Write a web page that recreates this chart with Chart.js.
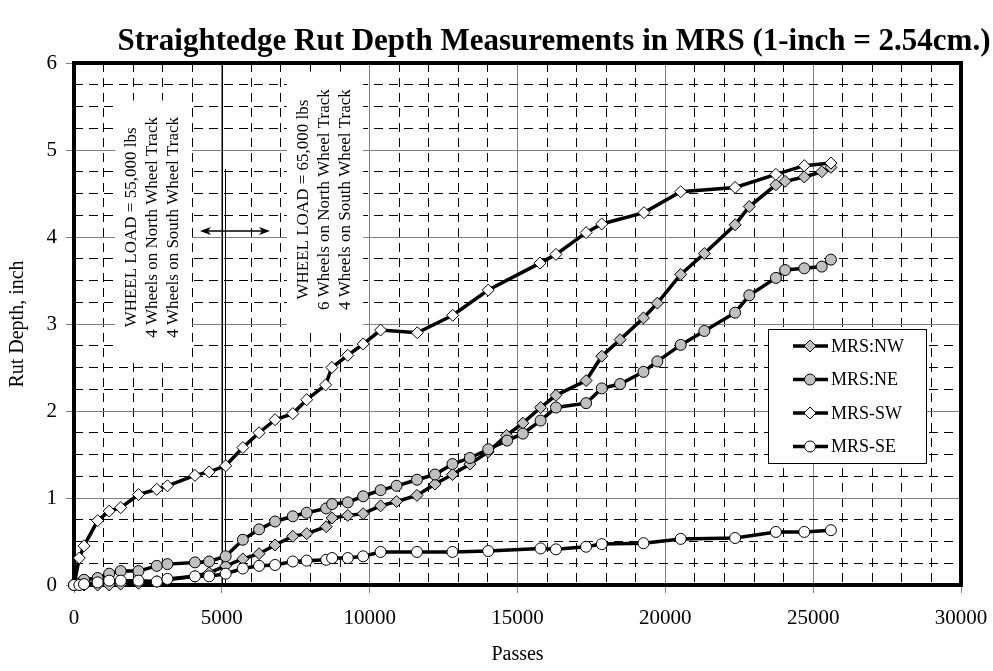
<!DOCTYPE html>
<html>
<head>
<meta charset="utf-8">
<script src="https://cdn.jsdelivr.net/npm/chart.js"></script>
<style>
  html, body { margin: 0; padding: 0; background: #fff; }
</style>
</head>
<body>
<canvas id="rutChart" width="993" height="671"></canvas>
<script>
// series names, in legend order
const seriesNames = ['MRS:NW', 'MRS:NE', 'MRS-SW', 'MRS-SE'];

// passes / rut depth (inch)
const nwPasses = [0, 180, 340, 800, 1190, 1580, 2180, 2800, 3160, 4090, 4570, 5130, 5710, 6260, 6800, 7400, 7870, 8530, 8730, 9260, 9780, 10370, 10910, 11600, 12210, 12800, 13390, 14010, 14630, 15180, 15780, 16300, 17320, 17850, 18470, 19260, 19730, 20520, 21320, 22360, 22840, 23740, 24050, 24700, 25290, 25600];
const nwDepth  = [0, 0, 0, 0, 0, 0.01, 0.02, 0.04, 0.06, 0.10, 0.14, 0.22, 0.30, 0.36, 0.46, 0.56, 0.59, 0.67, 0.77, 0.80, 0.82, 0.91, 0.96, 1.03, 1.16, 1.27, 1.39, 1.53, 1.72, 1.86, 2.04, 2.18, 2.35, 2.63, 2.82, 3.07, 3.24, 3.57, 3.81, 4.14, 4.35, 4.60, 4.64, 4.69, 4.75, 4.80];

const nePasses = [0, 180, 340, 800, 1190, 1580, 2180, 2800, 3160, 4090, 4570, 5130, 5710, 6260, 6800, 7400, 7870, 8530, 8730, 9260, 9780, 10370, 10910, 11600, 12210, 12800, 13390, 14010, 14650, 15180, 15780, 16300, 17320, 17850, 18470, 19260, 19730, 20520, 21320, 22360, 22840, 23740, 24050, 24700, 25290, 25600];
const neDepth  = [0, 0.02, 0.06, 0.08, 0.13, 0.16, 0.16, 0.22, 0.24, 0.26, 0.27, 0.33, 0.52, 0.64, 0.73, 0.79, 0.83, 0.88, 0.93, 0.95, 1.02, 1.09, 1.14, 1.21, 1.27, 1.39, 1.46, 1.56, 1.66, 1.74, 1.89, 2.04, 2.09, 2.26, 2.31, 2.45, 2.57, 2.76, 2.92, 3.13, 3.33, 3.53, 3.62, 3.64, 3.66, 3.74];

const swPasses = [0, 180, 340, 800, 1190, 1580, 2180, 2800, 3160, 4090, 4570, 5130, 5710, 6260, 6800, 7400, 7870, 8510, 8720, 9260, 9780, 10370, 11610, 12810, 14010, 15760, 16300, 17320, 17850, 19280, 20520, 22360, 23740, 24700, 25600];
const swDepth  = [0, 0.31, 0.45, 0.74, 0.85, 0.89, 1.04, 1.10, 1.14, 1.26, 1.30, 1.37, 1.58, 1.75, 1.90, 1.97, 2.13, 2.30, 2.50, 2.64, 2.77, 2.93, 2.90, 3.10, 3.39, 3.70, 3.80, 4.05, 4.15, 4.28, 4.52, 4.57, 4.72, 4.82, 4.85];

const sePasses = [0, 180, 340, 800, 1190, 1580, 2180, 2800, 3160, 4090, 4570, 5130, 5710, 6260, 6800, 7400, 7870, 8530, 8730, 9260, 9780, 10370, 11600, 12800, 14010, 15780, 16300, 17320, 17850, 19260, 20520, 22360, 23740, 24700, 25600];
const seDepth  = [0, 0, 0.01, 0.03, 0.05, 0.05, 0.05, 0.04, 0.07, 0.10, 0.10, 0.13, 0.19, 0.22, 0.23, 0.27, 0.28, 0.29, 0.31, 0.31, 0.33, 0.38, 0.38, 0.38, 0.39, 0.42, 0.41, 0.44, 0.47, 0.48, 0.53, 0.54, 0.61, 0.61, 0.63];

// axis ticks
const xTickValues = [0, 5000, 10000, 15000, 20000, 25000, 30000];
const yTickValues = [0, 1, 2, 3, 4, 5, 6];

// notes on the plot (passes / inch)
const loadNotes = [
  { box: [1390, 3990, 2.62, 5.57], at: [2640, 4.11],
    lines: ['WHEEL LOAD = 55,000 lbs', '4 Wheels on North Wheel Track', '4 Wheels on South Wheel Track'] },
  { box: [7200, 9780, 2.93, 5.90], at: [8490, 4.43],
    lines: ['WHEEL LOAD = 65,000 lbs', '6 Wheels on North Wheel Track', '4 Wheels on South Wheel Track'] }
];
const changeAt = 5000;
const changeLine2 = 5100;
const changeTop = 4.78;
const arrowSpan = [4260, 6630, 4.07];

const SERIF = "'Liberation Serif', 'Times New Roman', serif";

const pts = (p, d) => p.map((v, i) => ({ x: v, y: d[i] }));

const styles = [
  { style: 'rectRot', r: 6, fill: '#c0c0c0' },
  { style: 'circle', r: 5.5, fill: '#c0c0c0' },
  { style: 'rectRot', r: 6, fill: '#ffffff' },
  { style: 'circle', r: 5.5, fill: '#ffffff' }
];
const allData = [pts(nwPasses, nwDepth), pts(nePasses, neDepth), pts(swPasses, swDepth), pts(sePasses, seDepth)];

function marker(ctx, s, x, y) {
  ctx.beginPath();
  if (s.style === 'circle') {
    ctx.arc(x, y, s.r, 0, Math.PI * 2);
  } else {
    ctx.moveTo(x - s.r, y);
    ctx.lineTo(x, y - s.r);
    ctx.lineTo(x + s.r, y);
    ctx.lineTo(x, y + s.r);
    ctx.closePath();
  }
  ctx.fillStyle = s.fill;
  ctx.fill();
  ctx.lineWidth = 1;
  ctx.strokeStyle = '#000';
  ctx.stroke();
}

const decor = {
  id: 'decor',
  beforeDatasetsDraw(chart) {
    const { ctx, chartArea: a, scales: { x, y } } = chart;
    ctx.save();

    // white panels + rotated text
    loadNotes.forEach(n => {
      const l = x.getPixelForValue(n.box[0]), r = x.getPixelForValue(n.box[1]);
      const t = y.getPixelForValue(n.box[3]), b = y.getPixelForValue(n.box[2]);
      ctx.fillStyle = '#fff';
      ctx.fillRect(l, t, r - l, b - t);

      ctx.save();
      ctx.translate(x.getPixelForValue(n.at[0]), y.getPixelForValue(n.at[1]));
      ctx.rotate(-Math.PI / 2);
      ctx.fillStyle = '#000';
      ctx.font = '17px ' + SERIF;
      ctx.textAlign = 'center';
      ctx.textBaseline = 'middle';
      n.lines.forEach((s, i) => ctx.fillText(s, 0, (i - 1) * 21));
      ctx.restore();
    });

    // load change lines
    ctx.strokeStyle = '#000';
    ctx.lineWidth = 1;
    const cx = Math.round(x.getPixelForValue(changeAt)) + 0.5;
    ctx.beginPath();
    ctx.moveTo(cx, a.top);
    ctx.lineTo(cx, a.bottom);
    ctx.stroke();
    const cx2 = Math.round(x.getPixelForValue(changeLine2)) + 0.5;
    ctx.beginPath();
    ctx.moveTo(cx2, y.getPixelForValue(changeTop));
    ctx.lineTo(cx2, a.bottom);
    ctx.stroke();

    // double arrow
    const ax1 = x.getPixelForValue(arrowSpan[0]), ax2 = x.getPixelForValue(arrowSpan[1]);
    const ay = y.getPixelForValue(arrowSpan[2]);
    ctx.lineWidth = 1.5;
    ctx.beginPath();
    ctx.moveTo(ax1 + 4, ay);
    ctx.lineTo(ax2 - 4, ay);
    ctx.stroke();
    ctx.fillStyle = '#000';
    [[ax1, 1], [ax2, -1]].forEach(([px, d]) => {
      ctx.beginPath();
      ctx.moveTo(px, ay);
      ctx.lineTo(px + d * 11, ay - 4);
      ctx.lineTo(px + d * 8, ay);
      ctx.lineTo(px + d * 11, ay + 4);
      ctx.closePath();
      ctx.fill();
    });

    // heavy plot frame
    ctx.lineWidth = 4;
    ctx.strokeRect(a.left, a.top, a.right - a.left, a.bottom - a.top);
    ctx.restore();
  },
  afterDatasetsDraw(chart) {
    const { ctx } = chart;
    ctx.save();
    const lx = 768, ly = 329, lw = 158, lh = 134;
    ctx.fillStyle = '#fff';
    ctx.fillRect(lx, ly, lw, lh);
    ctx.strokeStyle = '#000';
    ctx.lineWidth = 1;
    ctx.strokeRect(lx + 0.5, ly + 0.5, lw, lh);
    seriesNames.forEach((name, i) => {
      const yy = ly + 17 + i * 33.5;
      ctx.strokeStyle = '#000';
      ctx.lineWidth = 3.5;
      ctx.beginPath();
      ctx.moveTo(lx + 25, yy);
      ctx.lineTo(lx + 60, yy);
      ctx.stroke();
      marker(ctx, styles[i], lx + 42, yy);
      ctx.fillStyle = '#000';
      ctx.font = '18px ' + SERIF;
      ctx.textAlign = 'left';
      ctx.textBaseline = 'middle';
      ctx.fillText(name, lx + 63, yy + 1);
    });
    ctx.restore();
  },
  afterDraw(chart) {
    const { ctx } = chart;
    ctx.save();
    ctx.fillStyle = '#000';
    ctx.font = 'bold 31px ' + SERIF;
    ctx.textAlign = 'center';
    ctx.textBaseline = 'middle';
    ctx.fillText('Straightedge Rut Depth Measurements in MRS (1-inch = 2.54cm.)', 554, 42);
    ctx.restore();
  }
};

new Chart(document.getElementById('rutChart'), {
  type: 'scatter',
  data: {
    datasets: seriesNames.map((name, i) => ({
      label: name,
      data: allData[i],
      showLine: true,
      borderColor: '#000',
      borderWidth: 3.5,
      pointStyle: styles[i].style,
      pointRadius: styles[i].r,
      pointBackgroundColor: styles[i].fill,
      pointBorderColor: '#000',
      pointBorderWidth: 1,
      clip: false,
      order: 4 - i
    }))
  },
  options: {
    responsive: false,
    animation: false,
    devicePixelRatio: 1,
    layout: { padding: { top: 63, right: 32, left: 0, bottom: 0 } },
    plugins: {
      legend: { display: false },
      title: { display: false },
      tooltip: { enabled: false }
    },
    scales: {
      x: {
        type: 'linear', position: 'bottom', min: 0, max: 30000,
        afterBuildTicks: s => { s.ticks = xTickValues.map(v => ({ value: v })); },
        afterFit: s => { s.height = 86; s.paddingLeft = 0; s.paddingRight = 0; },
        ticks: { color: '#000', font: { family: SERIF, size: 21 }, padding: 13, maxRotation: 0,
          callback: v => String(v) },
        grid: { color: '#808080', lineWidth: 1, tickLength: 8, tickColor: '#808080' },
        border: { display: false },
        title: { display: true, text: 'Passes', color: '#000', font: { family: SERIF, size: 20 }, padding: 4 }
      },
      xm: {
        type: 'linear', position: 'bottom', min: 0, max: 30000,
        afterFit: s => { s.height = 0; s.paddingLeft = 0; s.paddingRight = 0; },
        ticks: { display: false, stepSize: 1000 },
        grid: { drawTicks: false, lineWidth: 1,
          color: c => (c.tick && c.tick.value % 5000 === 0) ? 'rgba(0,0,0,0)' : '#000' },
        border: { display: false, dash: [9, 6] }
      },
      y: {
        type: 'linear', position: 'left', min: 0, max: 6,
        afterBuildTicks: s => { s.ticks = yTickValues.map(v => ({ value: v })); },
        afterFit: s => { s.width = 74; },
        ticks: { color: '#000', font: { family: SERIF, size: 21 }, padding: 9,
          callback: v => String(v) },
        grid: { color: '#808080', lineWidth: 1, tickLength: 8, tickColor: '#808080' },
        border: { display: false },
        title: { display: true, text: 'Rut Depth, inch', color: '#000', font: { family: SERIF, size: 20 }, padding: 6 }
      },
      ym: {
        type: 'linear', position: 'left', min: 0, max: 6,
        afterFit: s => { s.width = 0; },
        ticks: { display: false, stepSize: 0.25 },
        grid: { drawTicks: false, lineWidth: 1,
          color: c => (c.tick && Math.abs(c.tick.value % 1) < 1e-6) ? 'rgba(0,0,0,0)' : '#000' },
        border: { display: false, dash: [9, 6] }
      }
    }
  },
  plugins: [decor]
});
</script>
</body>
</html>
